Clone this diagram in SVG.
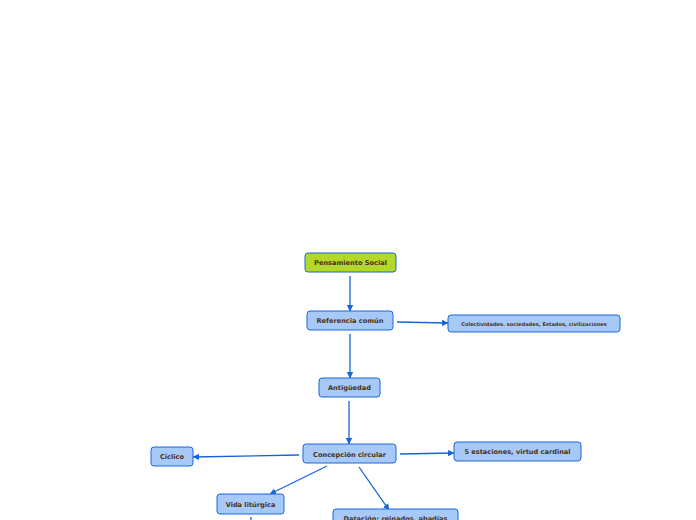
<svg xmlns="http://www.w3.org/2000/svg" width="696" height="520" viewBox="0 0 696 520">
<defs>
<marker id="ah" markerWidth="8" markerHeight="8" refX="6" refY="4" orient="auto" markerUnits="userSpaceOnUse">
<path d="M0,0.8 L6.5,4 L0,7.2 Z" fill="#1565d8"/>
</marker>
<style>
.n{fill:#a7c9f7;stroke:#1a66d8;stroke-width:1}
.r{fill:#b3d82a;stroke:#1a66d8;stroke-width:1}
.t{font-family:"DejaVu Sans",Verdana,sans-serif;font-weight:bold;font-size:6.6px;fill:#4a3215;text-anchor:middle}
.s{font-size:5.1px}
.c{stroke:#1565d8;stroke-width:1.3;fill:none;marker-end:url(#ah)}
</style>
</defs>
<rect width="696" height="520" fill="#ffffff"/>
<g id="connectors">
<line class="c" x1="350" y1="276" x2="350" y2="311"/>
<line class="c" x1="350" y1="334" x2="350" y2="378"/>
<line class="c" x1="397" y1="322" x2="448" y2="323"/>
<line class="c" x1="349" y1="401" x2="349" y2="444"/>
<line class="c" x1="299" y1="455" x2="193" y2="457"/>
<line class="c" x1="400" y1="454" x2="454" y2="453"/>
<line class="c" x1="327" y1="466" x2="270" y2="494"/>
<line class="c" x1="359" y1="467" x2="389" y2="510"/>
<line x1="251" y1="517" x2="251" y2="520" stroke="#1565d8" stroke-width="1.3"/>
</g>
<g id="n-pensamiento"><rect class="r" x="305" y="253" width="91" height="19" rx="3"/><text class="t" x="350.5" y="265">Pensamiento Social</text></g>
<g id="n-referencia"><rect class="n" x="307" y="311" width="86" height="19" rx="3"/><text class="t" x="350" y="323">Referencia común</text></g>
<g id="n-colectividades"><rect class="n" x="448" y="315" width="172" height="17" rx="3"/><text class="t s" x="534" y="325.8">Colectividades. sociedades, Estados, civilizaciones</text></g>
<g id="n-antiguedad"><rect class="n" x="319" y="378" width="61" height="19" rx="3"/><text class="t" x="349.5" y="390">Antigüedad</text></g>
<g id="n-concepcion"><rect class="n" x="303" y="444" width="93" height="19" rx="3"/><text class="t" x="349.5" y="456.5">Concepción circular</text></g>
<g id="n-ciclico"><rect class="n" x="151" y="447" width="42" height="19" rx="3"/><text class="t" x="172" y="459">Cíclico</text></g>
<g id="n-estaciones"><rect class="n" x="454" y="442" width="127" height="19" rx="3"/><text class="t" x="517.5" y="454">5 estaciones, virtud cardinal</text></g>
<g id="n-vida"><rect class="n" x="217" y="494" width="67" height="20" rx="3"/><text class="t" x="250.5" y="506.5">Vida litúrgica</text></g>
<g id="n-datacion"><rect class="n" x="333" y="509" width="125" height="20" rx="3"/><text class="t" x="395.5" y="521">Datación: reinados, abadías</text></g>
</svg>
